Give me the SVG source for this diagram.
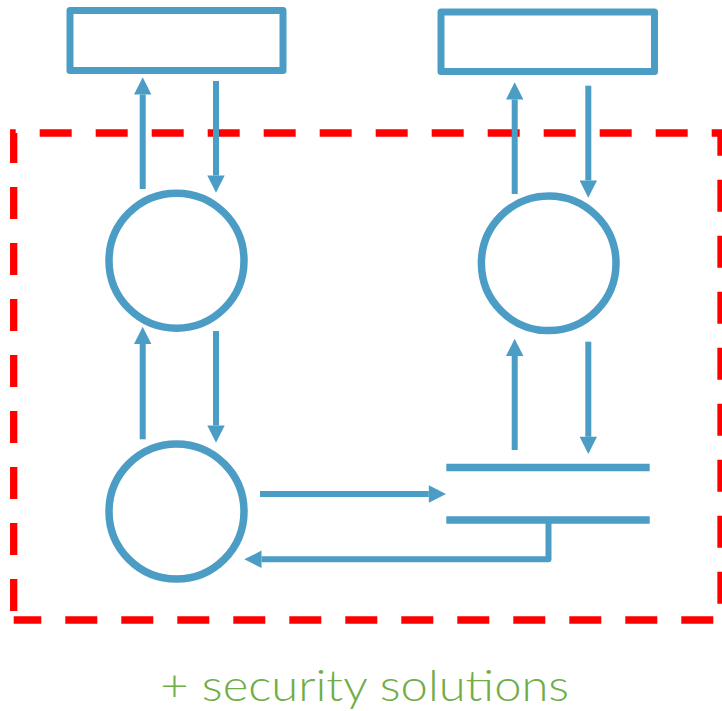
<svg xmlns="http://www.w3.org/2000/svg" width="722" height="711" viewBox="0 0 722 711">
  <style>
    .entity { fill: none; stroke: #4B9DC6; stroke-width: 7; stroke-linejoin: round; }
    .process { fill: none; stroke: #4B9DC6; stroke-width: 7.5; }
    .store { fill: none; stroke: #4B9DC6; stroke-width: 7.5; }
    .flow { fill: none; stroke: #4B9DC6; stroke-width: 6; stroke-linejoin: round; marker-end: url(#head); }
    .boundary { fill: none; stroke: #FF0000; stroke-width: 7.3; stroke-dasharray: 32 24; stroke-dashoffset: 47; }
    .caption { font-family: Lato, "Open Sans", "Liberation Sans", sans-serif; font-weight: 300; font-size: 43px; fill: #70AD47; }
  </style>
  <defs>
    <marker id="head" markerUnits="userSpaceOnUse" markerWidth="18" markerHeight="18" refX="0" refY="0" viewBox="0 -9 18 18" orient="auto" overflow="visible">
      <path d="M0,-8.7 L17.2,0 L0,8.7 z" fill="#4B9DC6"/>
    </marker>
  </defs>

  <!-- trust boundary -->
  <path id="boundary" class="boundary" d="M13.7,620 L13.7,133 L721,133 L721,620 Z"/>

  <!-- external entities -->
  <g id="entity-left"><rect class="entity" x="70" y="10.5" width="213" height="60"/></g>
  <g id="entity-right"><rect class="entity" x="441" y="12" width="213.5" height="59.5"/></g>

  <!-- processes -->
  <g id="process-top-left"><circle class="process" cx="176.5" cy="260.7" r="67.5"/></g>
  <g id="process-top-right"><circle class="process" cx="548.7" cy="263.3" r="67.3"/></g>
  <g id="process-bottom-left"><circle class="process" cx="176.5" cy="511.5" r="67.5"/></g>

  <!-- data store -->
  <g id="data-store">
    <line class="store" x1="446.3" y1="467.5" x2="649.7" y2="467.5"/>
    <line class="store" x1="446.3" y1="520" x2="649.7" y2="520"/>
  </g>

  <!-- data flows -->
  <g id="flows">
    <path class="flow" d="M142.7,189 L142.7,94.5"/>
    <path class="flow" d="M216,81 L216,175.5"/>
    <path class="flow" d="M142.7,439.3 L142.7,344"/>
    <path class="flow" d="M216,331 L216,425.5"/>
    <path class="flow" d="M514.7,194 L514.7,99.5"/>
    <path class="flow" d="M588.3,85.7 L588.3,180.5"/>
    <path class="flow" d="M514.7,450 L514.7,356"/>
    <path class="flow" d="M588.3,341.7 L588.3,436.8"/>
    <path class="flow" d="M260,494 L428.8,494"/>
    <path class="flow" d="M548.5,520 L548.5,559.3 L261.5,559.3"/>
  </g>

  <text class="caption" x="364.7" y="700.7" text-anchor="middle" textLength="409" lengthAdjust="spacingAndGlyphs">+ security solutions</text>
</svg>
